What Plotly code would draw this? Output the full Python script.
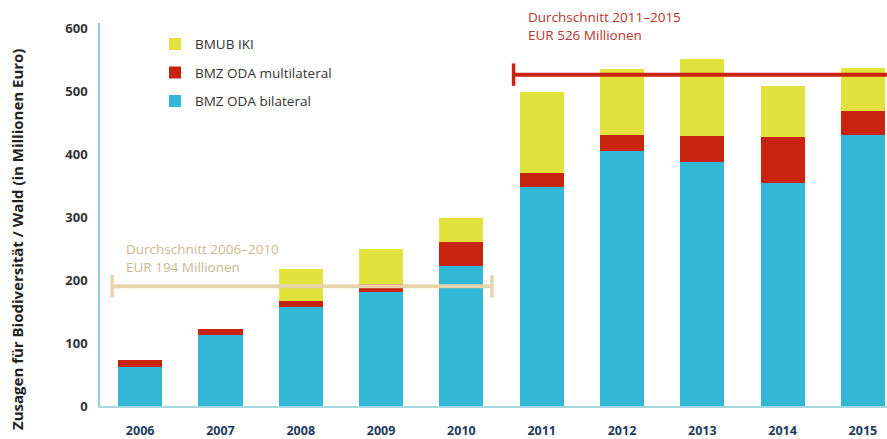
import plotly.graph_objects as go

years = ["2006", "2007", "2008", "2009", "2010", "2011", "2012", "2013", "2014", "2015"]
bilateral = [62, 113, 157, 181, 222, 348, 405, 387, 354, 430]
multilateral = [11, 9, 10, 13, 38, 22, 25, 42, 73, 38]
iki = [0, 0, 50, 55, 38, 128, 105, 122, 81, 69]

series_names = ["BMZ ODA bilateral", "BMZ ODA multilateral", "BMUB IKI"]
series_colors = ["#31b8d6", "#c8230f", "#e2e23c"]
legend_ranks = [3, 2, 1]

avg_periods = [("2006", "2010"), ("2011", "2015")]
avg_values = [190, 526]
avg_labels = ["Durchschnitt 2006–2010<br>EUR 194 Millionen", "Durchschnitt 2011–2015<br>EUR 526 Millionen"]
avg_colors = ["#e7d4ab", "#c8230f"]
avg_text_colors = ["#cbb992", "#b8352a"]

y_ticks = [0, 100, 200, 300, 400, 500, 600]

x_idx = list(range(len(years)))

fig = go.Figure()
for name, vals, col, rk in zip(series_names, [bilateral, multilateral, iki], series_colors, legend_ranks):
    fig.add_trace(go.Bar(x=x_idx, y=vals, name=name, marker=dict(color=col, line=dict(width=0)),
                         width=0.55, legendgroup=name, legendrank=rk))

# average lines
for k, ((a, b), v, c) in enumerate(zip(avg_periods, avg_values, avg_colors)):
    i0 = years.index(a)
    i1 = years.index(b)
    x0 = i0 - 0.35
    x1 = i1 + 0.38 if k == 0 else i1 + 1.0
    fig.add_trace(go.Scatter(x=[x0, x1], y=[v, v], mode="lines", line=dict(color=c, width=4),
                             showlegend=False, hoverinfo="skip"))
    caps = [x0, x1] if k == 0 else [x0]
    fig.add_trace(go.Scatter(x=caps, y=[v] * len(caps), mode="markers",
                             marker=dict(symbol="line-ns", size=16, line=dict(color=c, width=3.5)),
                             showlegend=False, hoverinfo="skip"))
    fig.add_annotation(x=x0 + 0.15, y=v, xref="x", yref="y", text=avg_labels[k],
                       showarrow=False, xanchor="left", yanchor="bottom", yshift=8 if k == 0 else 29,
                       align="left", font=dict(family="Open Sans", size=13.5, color=avg_text_colors[k]))

fig.add_annotation(x=(17 - 100) / 787, y=(439 - 33 - 240) / 383, xref="paper", yref="paper",
                   text="<b>Zusagen für Biodiversität / Wald (in Millionen Euro)</b>",
                   showarrow=False, textangle=-90, xanchor="center", yanchor="middle",
                   font=dict(family="Open Sans", size=15, color="#222222"))

fig.update_layout(
    width=887, height=439,
    margin=dict(l=100, r=0, t=23, b=33),
    barmode="stack",
    plot_bgcolor="white", paper_bgcolor="white",
    font=dict(family="Open Sans", color="#333333"),
    showlegend=True,
    legend=dict(x=0.0699, y=0.985, xanchor="left", yanchor="top", traceorder="grouped",
                tracegroupgap=8, font=dict(size=13.5, color="#333333"), bgcolor="rgba(0,0,0,0)"),
    xaxis=dict(range=[-0.5, 9.3], tickmode="array", tickvals=x_idx, ticktext=["<b>%s</b>" % y for y in years],
               tickfont=dict(family="Open Sans", size=12.5, color="#1e3a5c"),
               showline=True, linecolor="#a7d7e3", linewidth=2, ticks="outside", ticklen=12,
               tickcolor="rgba(0,0,0,0)", showgrid=False, zeroline=False, fixedrange=True),
    yaxis=dict(range=[0, 608], tickvals=y_ticks, ticktext=["<b>%d</b>" % t for t in y_ticks],
               tickfont=dict(family="Open Sans", size=13, color="#333333"),
               showline=True, linecolor="#8ccfdf", linewidth=1.5, ticks="outside", ticklen=8,
               tickcolor="rgba(0,0,0,0)", showgrid=False, zeroline=False),
)

fig.write_html("out.html")
